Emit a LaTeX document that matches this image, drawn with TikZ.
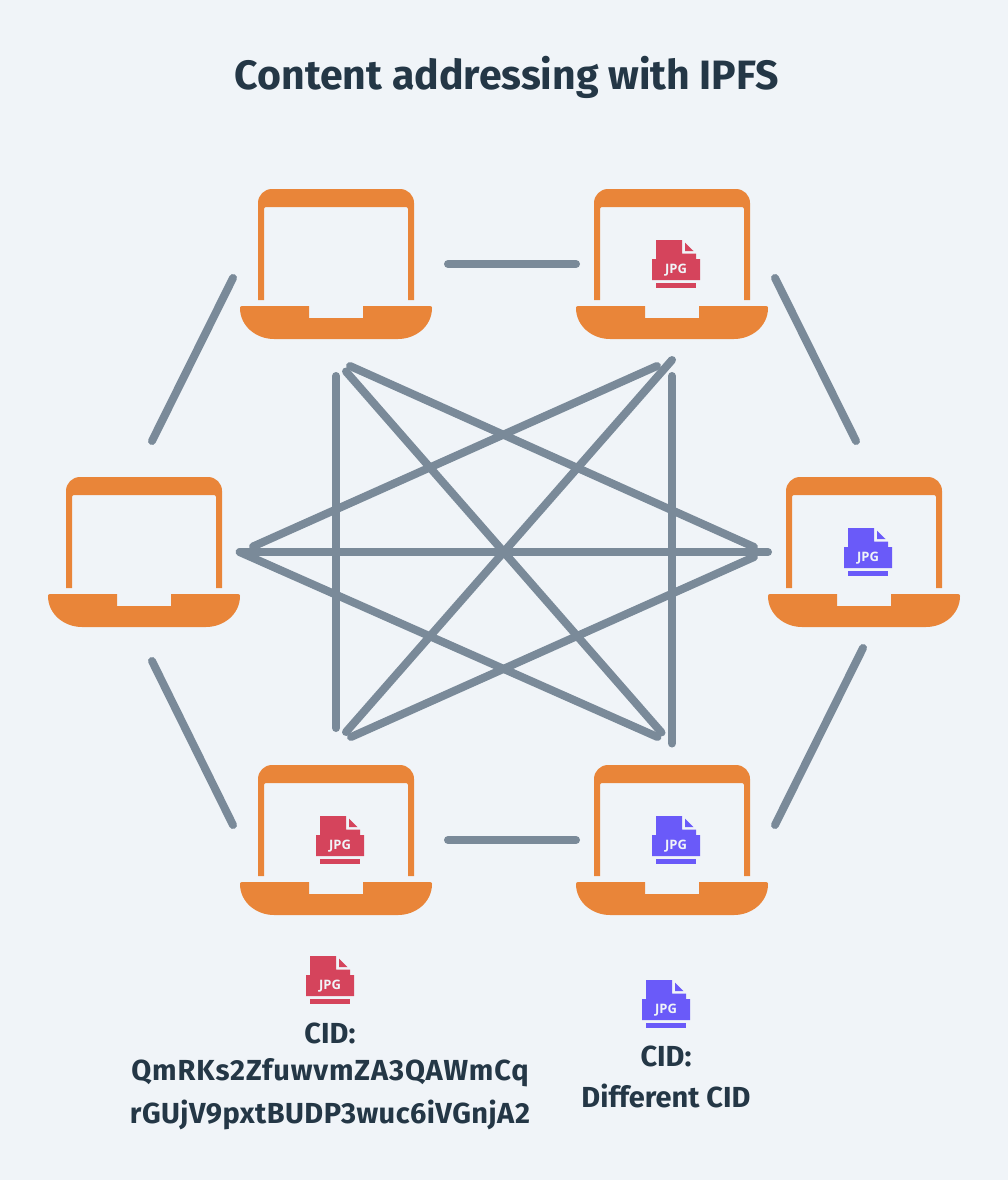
\documentclass[tikz,border=0pt]{standalone}
\usepackage{fontspec}
\setmainfont{Fira Sans}[BoldFont={Fira Sans Bold}]
\newfontfamily\iconfont{Open Sans}[BoldFont={Open Sans Bold}]
\definecolor{bgc}{HTML}{F0F4F8}
\definecolor{orangec}{HTML}{E98539}
\definecolor{linec}{HTML}{7A8A99}
\definecolor{redc}{HTML}{D5445C}
\definecolor{purplec}{HTML}{6A5AF9}
\definecolor{textc}{HTML}{243746}
\tikzset{
  x=1pt,y=-1pt,
  conn/.style={draw=linec,line width=8pt,line cap=round},
  titletext/.style={text=textc,font=\fontsize{41}{48}\selectfont\bfseries,inner sep=0pt},
  cidtext/.style={text=textc,font=\fontsize{29}{34}\selectfont\bfseries,inner sep=0pt},
  pics/laptop/.style={code={
    \fill[orangec,even odd rule]
      (18,111) -- (18,14) arc[start angle=180,end angle=90,x radius=14,y radius=-14] -- (160,0)
      arc[start angle=90,end angle=0,x radius=14,y radius=-14] -- (174,111) -- (168,111) -- (168,20)
      arc[start angle=0,end angle=90,x radius=2,y radius=-2] -- (26,18)
      arc[start angle=90,end angle=180,x radius=2,y radius=-2] -- (24,111) -- cycle;
    \fill[orangec] (2,117) -- (69,117) -- (69,129) -- (123,129) -- (123,117) -- (190,117)
      .. controls (191.5,117) and (192,118) .. (192,119)
      .. controls (192,137) and (176,150) .. (158,150) -- (34,150)
      .. controls (16,150) and (0,137) .. (0,119)
      .. controls (0,118) and (0.5,117) .. (2,117) -- cycle;
  }},
  pics/jpgicon/.style={code={
    \fill[#1] (4,0) -- (30,0) -- (30,13.5) -- (44,13.5) -- (44,19) -- (48,19) -- (48,40) -- (0,40) -- (0,19) -- (4,19) -- cycle;
    \fill[#1] (33,2.7) -- (41.5,11) -- (33,11) -- cycle;
    \fill[#1] (4,43) -- (44,43) -- (44,48) -- (4,48) -- cycle;
    \node[text=bgc,font=\iconfont\fontsize{13}{13}\selectfont\bfseries,inner sep=0pt] at (24,30.5) {JPG};
  }}
}
\begin{document}
\begin{tikzpicture}
\useasboundingbox (0,0) rectangle (1008,1180);
\fill[bgc] (0,0) rectangle (1008,1180);
\node[titletext] (title) at (507,77) {Content addressing with IPFS};
% laptops
\pic at (240,189) {laptop};
\pic at (576,189) {laptop};
\pic at (48,477) {laptop};
\pic at (768,477) {laptop};
\pic at (240,765) {laptop};
\pic at (576,765) {laptop};
% icons
\pic at (652,240) {jpgicon=redc};
\pic at (844,528) {jpgicon=purplec};
\pic at (316,816) {jpgicon=redc};
\pic at (652,816) {jpgicon=purplec};
\pic at (306,956) {jpgicon=redc};
\pic at (642,980) {jpgicon=purplec};
% connector ends
\coordinate (a1) at (448,264); \coordinate (a2) at (576,264);
\coordinate (b1) at (448,840); \coordinate (b2) at (576,840);
\coordinate (c1) at (152,441); \coordinate (c2) at (233,278);
\coordinate (d1) at (775,278); \coordinate (d2) at (856,441);
\coordinate (e1) at (152,661); \coordinate (e2) at (233,825);
\coordinate (f1) at (863,648); \coordinate (f2) at (775,825);
\coordinate (g1) at (336,376); \coordinate (g2) at (336,728);
\coordinate (h1) at (672,376); \coordinate (h2) at (672,743.5);
\coordinate (i1) at (240,552); \coordinate (i2) at (768,552);
\coordinate (j1) at (346,371.5); \coordinate (j2) at (661.5,732.5);
\coordinate (k1) at (350,366); \coordinate (k2) at (754,547);
\coordinate (l1) at (351,737); \coordinate (l2) at (754,557);
\coordinate (m1) at (346,732); \coordinate (m2) at (672,360);
\coordinate (n1) at (657,366); \coordinate (n2) at (253,546.5);
\coordinate (o1) at (239.5,552); \coordinate (o2) at (657.5,737);
\foreach \p/\q in {a1/a2,b1/b2,c1/c2,d1/d2,e1/e2,f1/f2,g1/g2,h1/h2,i1/i2,j1/j2,k1/k2,l1/l2,m1/m2,n1/n2,o1/o2}
  \draw[conn] (\p) -- (\q);
% labels
\node[cidtext] (cida1) at (330,1033) {CID:};
\node[cidtext] (cida2) at (330,1073) {\addfontfeature{LetterSpace=3}QmRKs2ZfuwvmZA3QAWmCq};
\node[cidtext] (cida3) at (330,1115) {\addfontfeature{LetterSpace=1.5}rGUjV9pxtBUDP3wuc6iVGnjA2};
\node[cidtext] (cidb1) at (666,1056) {CID:};
\node[cidtext] (cidb2) at (666,1096) {Different CID};
\end{tikzpicture}
\end{document}
